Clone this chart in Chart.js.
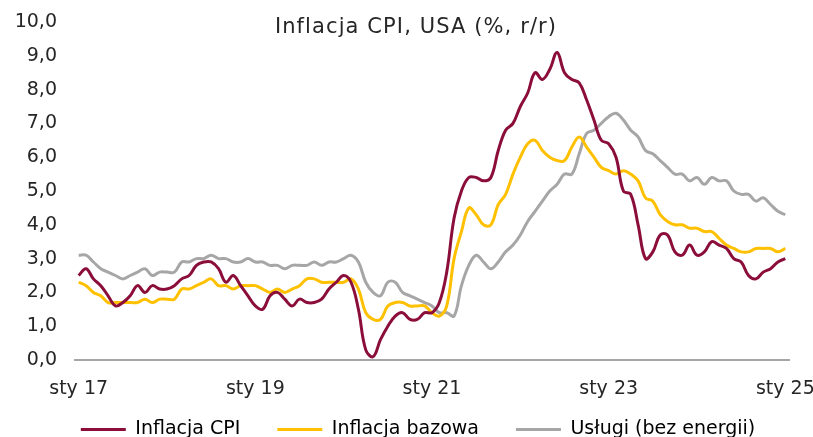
<!DOCTYPE html>
<html>
<head>
<meta charset="utf-8">
<script src="https://cdn.jsdelivr.net/npm/chart.js@4.4.1/dist/chart.umd.min.js"></script>
<style>
  html, body { margin: 0; padding: 0; background: #ffffff; }
  #wrap { width: 813px; height: 437px; position: relative; }
</style>
</head>
<body>
<div id="wrap"><canvas id="c" width="813" height="437"></canvas></div>
<script>
// ---- DATA ----
const monthNames = ['sty','lut','mar','kwi','maj','cze','lip','sie','wrz','paź','lis','gru'];
const years = ['17','18','19','20','21','22','23','24','25'];
const categories = [];
years.forEach(y => monthNames.forEach(m => { if (categories.length < 97) categories.push(m + ' ' + y); }));

const cpi = [
  2.5, 2.7, 2.4, 2.2, 1.9, 1.6, 1.7, 1.9, 2.2, 2.0, 2.2, 2.1,
  2.1, 2.2, 2.4, 2.5, 2.8, 2.9, 2.9, 2.7, 2.3, 2.5, 2.2, 1.9,
  1.6, 1.5, 1.9, 2.0, 1.8, 1.6, 1.8, 1.7, 1.7, 1.8, 2.1, 2.3,
  2.5, 2.3, 1.5, 0.3, 0.1, 0.6, 1.0, 1.3, 1.4, 1.2, 1.2, 1.4,
  1.4, 1.7, 2.6, 4.2, 5.0, 5.4, 5.4, 5.3, 5.4, 6.2, 6.8, 7.0,
  7.5, 7.9, 8.5, 8.3, 8.6, 9.1, 8.5, 8.3, 8.2, 7.7, 7.1, 6.5,
  6.4, 6.0, 5.0, 4.9, 4.0, 3.0, 3.2, 3.7, 3.7, 3.2, 3.1, 3.4,
  3.1, 3.2, 3.5, 3.4, 3.3, 3.0, 2.9, 2.5, 2.4, 2.6, 2.7, 2.9,
  3.0
];
const core = [
  2.3, 2.2, 2.0, 1.9, 1.7, 1.7, 1.7, 1.7, 1.7, 1.8, 1.7, 1.8,
  1.8, 1.8, 2.1, 2.1, 2.2, 2.3, 2.4, 2.2, 2.2, 2.1, 2.2, 2.2,
  2.2, 2.1, 2.0, 2.1, 2.0, 2.1, 2.2, 2.4, 2.4, 2.3, 2.3, 2.3,
  2.3, 2.4, 2.1, 1.4, 1.2, 1.2, 1.6, 1.7, 1.7, 1.6, 1.6, 1.6,
  1.4, 1.3, 1.6, 3.0, 3.8, 4.5, 4.3, 4.0, 4.0, 4.6, 4.9, 5.5,
  6.0, 6.4, 6.5, 6.2, 6.0, 5.9, 5.9, 6.3, 6.6, 6.3, 6.0, 5.7,
  5.6, 5.5, 5.6, 5.5, 5.3, 4.8, 4.7, 4.3, 4.1, 4.0, 4.0, 3.9,
  3.9, 3.8, 3.8, 3.6, 3.4, 3.3, 3.2, 3.2, 3.3, 3.3, 3.3, 3.2,
  3.3
];
const services = [
  3.1, 3.1, 2.9, 2.7, 2.6, 2.5, 2.4, 2.5, 2.6, 2.7, 2.5, 2.6,
  2.6, 2.6, 2.9, 2.9, 3.0, 3.0, 3.1, 3.0, 3.0, 2.9, 2.9, 3.0,
  2.9, 2.9, 2.8, 2.8, 2.7, 2.8, 2.8, 2.8, 2.9, 2.8, 2.9, 2.9,
  3.0, 3.1, 2.9, 2.3, 2.0, 1.9, 2.3, 2.3, 2.0, 1.9, 1.8, 1.7,
  1.6, 1.4, 1.4, 1.3, 2.2, 2.8, 3.1, 2.9, 2.7, 2.9, 3.2, 3.4,
  3.7, 4.1, 4.4, 4.7, 5.0, 5.2, 5.5, 5.5, 6.1, 6.7, 6.8, 7.0,
  7.2, 7.3, 7.1, 6.8, 6.6, 6.2, 6.1, 5.9, 5.7, 5.5, 5.5, 5.3,
  5.4, 5.2, 5.4, 5.3, 5.3, 5.0, 4.9, 4.9, 4.7, 4.8, 4.6, 4.4,
  4.3
];
const seriesNames = ['Inflacja CPI', 'Inflacja bazowa', 'Usługi (bez energii)'];
const titleText = 'Inflacja CPI, USA (%, r/r)';
const yTicks = [0,1,2,3,4,5,6,7,8,9,10];

// ---- STYLE ----
const FONT = '"DejaVu Sans", sans-serif';
const colors = ['#8B0D3A', '#FFC000', '#A6A6A6'];
const TXT = '#262626';

const inPlotTitle = {
  id: 'inPlotTitle',
  afterDraw(chart) {
    const ctx = chart.ctx, a = chart.chartArea;
    ctx.save();
    ctx.font = '21px ' + FONT;
    try { ctx.letterSpacing = '1.1px'; } catch (e) {}
    ctx.fillStyle = TXT;
    ctx.textAlign = 'center';
    ctx.textBaseline = 'middle';
    ctx.fillText(titleText, a.left + 341, a.top + 6);
    ctx.restore();
  }
};

// move the legend box (keeps its own drawing) to sit like the reference
const legendShift = {
  id: 'legendShift',
  afterLayout(chart) {
    const lg = chart.legend;
    if (!lg) return;
    lg.left += 16; lg.right += 16;
    lg.top -= 27;
    lg.bottom = chart.height;
    lg.height = lg.bottom - lg.top;
  }
};

Chart.defaults.font.family = FONT;
Chart.defaults.color = TXT;

new Chart(document.getElementById('c'), {
  type: 'line',
  data: {
    labels: categories,
    datasets: [
      { label: seriesNames[0], data: cpi, borderColor: colors[0], backgroundColor: colors[0] },
      { label: seriesNames[1], data: core, borderColor: colors[1], backgroundColor: colors[1] },
      { label: seriesNames[2], data: services, borderColor: colors[2], backgroundColor: colors[2] }
    ].map(d => Object.assign(d, { borderWidth: 3, pointRadius: 0, tension: 0.4, fill: false }))
  },
  options: {
    responsive: false,
    animation: false,
    layout: { padding: { left: 15, right: 24, top: 22, bottom: 0 } },
    plugins: {
      legend: {
        position: 'bottom',
        maxHeight: 27,
        labels: {
          font: { size: 19 },
          color: TXT,
          boxWidth: 45,
          boxHeight: 3,
          padding: 37,
          generateLabels(chart) {
            return chart.data.datasets.map((d, i) => ({
              text: d.label, fillStyle: d.borderColor, strokeStyle: d.borderColor,
              lineWidth: 0, datasetIndex: i, hidden: false
            }));
          }
        }
      },
      title: { display: false },
      tooltip: { enabled: false }
    },
    scales: {
      x: {
        offset: true,
        afterFit(axis) { axis.height = 50; axis.paddingLeft = 0; axis.paddingRight = 0; },
        grid: { display: false, drawTicks: false },
        border: { display: true, color: '#A6A6A6', width: 2 },
        ticks: {
          autoSkip: false, maxRotation: 0, minRotation: 0,
          font: { size: 19 }, color: TXT, padding: 18,
          callback(v, i) { return i % 24 === 0 ? categories[i] : ''; }
        }
      },
      y: {
        min: 0, max: 10,
        afterBuildTicks(axis) { axis.ticks = yTicks.map(v => ({ value: v })); },
        afterFit(axis) { axis.width = 60; axis.paddingTop = 0; axis.paddingBottom = 0; },
        grid: { display: false, drawTicks: false },
        border: { display: false },
        ticks: {
          font: { size: 19 }, color: TXT, padding: 18,
          callback(v) { return Number(v).toFixed(1).replace('.', ','); }
        }
      }
    }
  },
  plugins: [inPlotTitle, legendShift]
});
</script>
</body>
</html>
